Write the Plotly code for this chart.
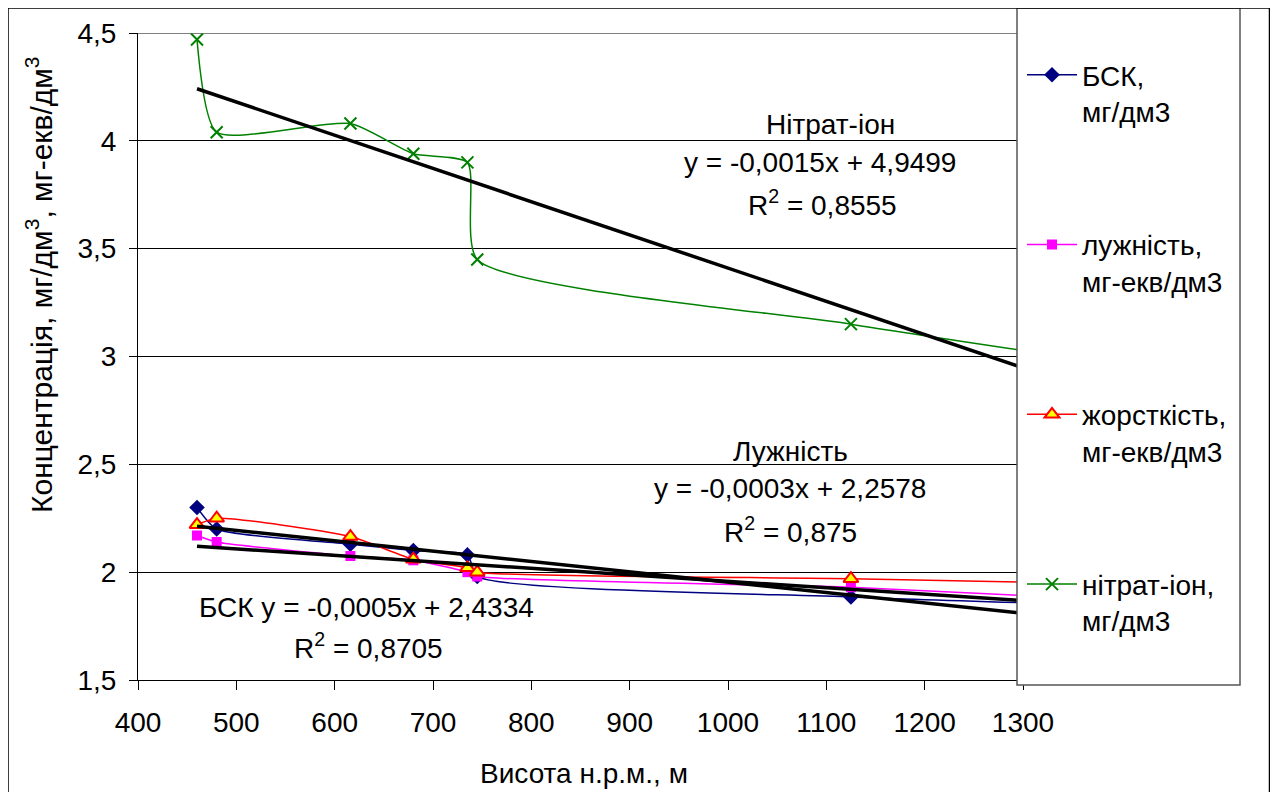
import plotly.graph_objects as go

# ---------------- data ----------------
altitude = [460, 480, 616, 680, 735, 745, 1125, 1400]
bsk = [2.30, 2.20, 2.13, 2.10, 2.08, 1.98, 1.885, 1.845]
alkalinity = [2.17, 2.14, 2.075, 2.055, 2.00, 1.98, 1.93, 1.87]
hardness = [2.22, 2.25, 2.165, 2.06, 2.02, 2.00, 1.97, 1.945]
nitrate = [4.47, 4.04, 4.08, 3.94, 3.90, 3.45, 3.15, 2.96]

series_names = ["БСК,<br>мг/дм3", "лужність,<br>мг-екв/дм3",
                "жорсткість,<br>мг-екв/дм3", "нітрат-іон,<br>мг/дм3"]

# linear trend lines (slope, intercept) as drawn
trend_labels = ["БСК", "Лужність", "Нітрат-іон"]
trend_slopes = [-0.00048, -0.0003, -0.00154]
trend_intercepts = [2.4334, 2.2578, 4.9499]
trend_x = [460, 1400]

x_ticks = [400, 500, 600, 700, 800, 900, 1000, 1100, 1200, 1300]
y_ticks = [1.5, 2, 2.5, 3, 3.5, 4, 4.5]
y_tick_labels = ["1,5", "2", "2,5", "3", "3,5", "4", "4,5"]

x_title = "Висота н.р.м., м"
y_title = "Концентрація, мг/дм<sup>3</sup>, мг-екв/дм<sup>3</sup>"

# ---------------- layout geometry (screen pixels of the reference) ----------------
OFF = 8                      # page body margin
FW, FH = 1262, 784           # figure size
L, R, T, B = 138, 1023, 33, 680   # plot area edges on screen
FONT = "Liberation Sans, Arial, sans-serif"


def px(x):
    return (x - L) / (R - L)


def py(y):
    return (B - y) / (B - T)


fig = go.Figure()

styles = [
    dict(color="#000080", symbol="diamond", size=12, fill="#000080", lw=0),
    dict(color="#FF00FF", symbol="square", size=10, fill="#FF00FF", lw=0),
    dict(color="#FF0000", symbol="triangle-up", size=13, fill="#FFFF00", lw=2),
    dict(color="#008000", symbol="x-thin", size=12, fill="#008000", lw=2),
]
values = [bsk, alkalinity, hardness, nitrate]

for i, (name, vals, st) in enumerate(zip(series_names, values, styles)):
    marker = dict(symbol=st["symbol"], size=st["size"], color=st["fill"],
                  line=dict(color=st["color"], width=st["lw"]))
    fig.add_trace(go.Scatter(
        x=altitude, y=vals, name=name, mode="lines+markers",
        line=dict(color=st["color"], width=1.5, shape="spline", smoothing=0.6),
        marker=marker, legendgroup=f"g{i}", cliponaxis=True,
    ))

for lab, k, b in zip(trend_labels, trend_slopes, trend_intercepts):
    fig.add_trace(go.Scatter(
        x=trend_x, y=[k * xv + b for xv in trend_x], mode="lines",
        line=dict(color="black", width=3.5), showlegend=False, hoverinfo="skip",
    ))

annotations = []


def add_text(text, x, y, size=28, anchor="center", angle=0):
    annotations.append(dict(
        text=text, x=px(x), y=py(y), xref="paper", yref="paper",
        xanchor=anchor, yanchor="middle", showarrow=False, textangle=angle,
        font=dict(family=FONT, size=size, color="black")))


add_text("Нітрат-іон", 830, 124)
add_text("y = -0,0015x + 4,9499", 820, 162)
add_text("R<sup>2</sup> = 0,8555", 822, 203)
add_text("Лужність", 790, 452)
add_text("y = -0,0003x + 2,2578", 790, 488)
add_text("R<sup>2</sup> = 0,875", 790, 530)
add_text("БСК y = -0,0005x + 2,4334", 366, 607)
add_text("R<sup>2</sup> = 0,8705", 368, 646)
add_text(x_title, 584, 773)
add_text(y_title, 39, 285, size=30, angle=-90)

shapes = [
    # top boundary line at 4.5
    dict(type="line", xref="x", yref="y", x0=400, x1=1300, y0=4.5, y1=4.5,
         line=dict(color="#808080", width=2), layer="below"),
    # legend frame
    dict(type="rect", xref="paper", yref="paper",
         x0=px(1017), x1=px(1240), y0=py(685), y1=py(8),
         line=dict(color="#555555", width=1.5), fillcolor="white", layer="above"),
    # outer chart frame
    dict(type="rect", xref="paper", yref="paper",
         x0=px(8), x1=px(1269.5), y0=py(815), y1=py(8),
         line=dict(color="black", width=1.5), fillcolor="rgba(0,0,0,0)", layer="above"),
]

fig.update_layout(
    width=FW, height=FH,
    margin=dict(l=L - OFF, r=FW - (R - OFF), t=T - OFF, b=FH - (B - OFF),
                autoexpand=False),
    paper_bgcolor="white", plot_bgcolor="white",
    font=dict(family=FONT, size=28, color="black"),
    showlegend=True,
    legend=dict(x=px(1022), y=py(50), xanchor="left", yanchor="top",
                bgcolor="rgba(0,0,0,0)", borderwidth=0, valign="top",
                tracegroupgap=94, itemwidth=50,
                font=dict(family=FONT, size=28, color="black")),
    annotations=annotations,
    shapes=shapes,
)

fig.update_xaxes(range=[400, 1300], tickvals=x_ticks, showgrid=False,
                 showline=True, linecolor="black", linewidth=1,
                 ticks="outside", ticklen=9, tickcolor="black", tickwidth=1,
                 ticklabelstandoff=8,
                 tickfont=dict(family=FONT, size=28), zeroline=False)
fig.update_yaxes(range=[1.5, 4.5], tickvals=y_ticks, ticktext=y_tick_labels,
                 showgrid=True, gridcolor="black", gridwidth=1,
                 showline=True, linecolor="black", linewidth=1,
                 ticks="outside", ticklen=8, tickcolor="black", tickwidth=1,
                 ticklabelstandoff=7,
                 tickfont=dict(family=FONT, size=28), zeroline=False)

fig.write_html("out.html")
